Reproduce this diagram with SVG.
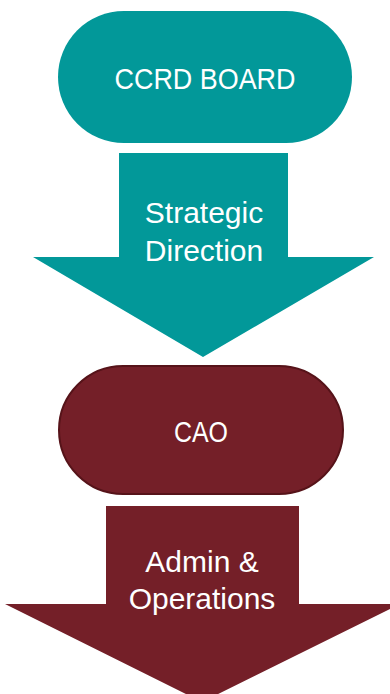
<svg xmlns="http://www.w3.org/2000/svg" width="390" height="694" viewBox="0 0 390 694">
  <style>
    .lbl { font-family: "Liberation Sans", Arial, sans-serif; font-size: 30px; fill: #ffffff; text-anchor: middle; }
    .teal { fill: #029899; }
    .maroon { fill: #741f28; }
  </style>
  <rect width="390" height="694" fill="#ffffff"/>

  <!-- Board node -->
  <g id="board">
    <rect class="teal" x="58" y="11" width="294" height="132" rx="66" ry="66"/>
    <text class="lbl" x="205" y="89" textLength="181" lengthAdjust="spacingAndGlyphs">CCRD BOARD</text>
  </g>

  <!-- CAO node -->
  <g id="cao">
    <rect class="maroon" x="59" y="366" width="284" height="128" rx="64" ry="64" stroke="#561319" stroke-width="2"/>
    <text class="lbl" x="201" y="442" textLength="54" lengthAdjust="spacingAndGlyphs">CAO</text>
  </g>

  <!-- Block-arrow connectors -->
  <g id="connectors">
    <g id="arrow-strategic">
      <polygon class="teal" points="119,153 288,153 288,257 374,257 203,357 33,257 119,257"/>
      <text class="lbl" x="204" y="223">Strategic</text>
      <text class="lbl" x="204" y="261">Direction</text>
    </g>
    <g id="arrow-admin">
      <polygon class="maroon" points="106,506 299,506 299,604 400,604 202,702 5,604 106,604"/>
      <text class="lbl" x="202" y="572">Admin &amp;</text>
      <text class="lbl" x="202" y="609">Operations</text>
    </g>
  </g>
</svg>
